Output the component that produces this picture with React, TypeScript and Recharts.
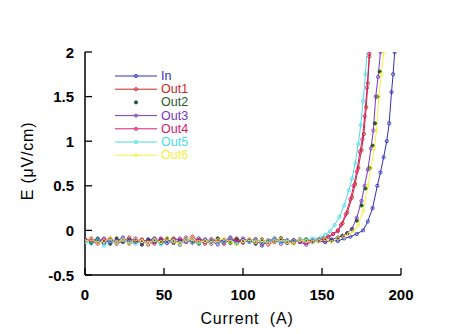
import { LineChart, Line, XAxis, YAxis } from 'recharts'

// shared baseline currents (A)
const baseCurrent = [0, 4, 8, 12, 16, 20, 24, 28, 32, 36, 40, 44, 48, 52, 56, 60, 64, 68, 72, 76, 80, 84, 88, 92, 96, 100, 104, 108, 112, 116, 120, 124, 128, 132, 136, 140, 144]

// baseline E (uV/cm) per channel
const inBase = [-0.10, -0.13, -0.09, -0.14, -0.11, -0.12, -0.08, -0.15, -0.10, -0.13, -0.11, -0.09, -0.14, -0.12, -0.10, -0.16, -0.11, -0.13, -0.09, -0.12, -0.15, -0.10, -0.12, -0.08, -0.14, -0.11, -0.13, -0.10, -0.17, -0.12, -0.09, -0.13, -0.11, -0.14, -0.10, -0.12, -0.13]
const out1Base = [-0.12, -0.09, -0.14, -0.11, -0.10, -0.15, -0.12, -0.08, -0.13, -0.11, -0.16, -0.10, -0.12, -0.14, -0.09, -0.11, -0.13, -0.07, -0.12, -0.15, -0.10, -0.12, -0.14, -0.11, -0.09, -0.13, -0.12, -0.10, -0.15, -0.11, -0.13, -0.09, -0.12, -0.14, -0.10, -0.11, -0.12]
const out2Base = [-0.11, -0.14, -0.10, -0.12, -0.15, -0.09, -0.13, -0.11, -0.12, -0.16, -0.10, -0.13, -0.11, -0.09, -0.14, -0.12, -0.10, -0.13, -0.15, -0.11, -0.12, -0.09, -0.13, -0.14, -0.10, -0.12, -0.11, -0.15, -0.10, -0.13, -0.12, -0.09, -0.14, -0.11, -0.13, -0.10, -0.12]
const out3Base = [-0.13, -0.10, -0.12, -0.09, -0.14, -0.11, -0.13, -0.12, -0.09, -0.15, -0.11, -0.12, -0.10, -0.14, -0.12, -0.09, -0.13, -0.11, -0.14, -0.10, -0.12, -0.16, -0.11, -0.10, -0.13, -0.09, -0.12, -0.14, -0.11, -0.13, -0.10, -0.15, -0.12, -0.11, -0.13, -0.16, -0.12]
const out4Base = [-0.10, -0.12, -0.15, -0.11, -0.09, -0.13, -0.10, -0.14, -0.12, -0.10, -0.13, -0.15, -0.09, -0.11, -0.13, -0.12, -0.08, -0.14, -0.11, -0.13, -0.10, -0.12, -0.15, -0.09, -0.12, -0.14, -0.10, -0.13, -0.11, -0.16, -0.12, -0.10, -0.13, -0.11, -0.12, -0.14, -0.11]
const out5Base = [-0.13, -0.15, -0.11, -0.17, -0.12, -0.14, -0.10, -0.13, -0.15, -0.12, -0.14, -0.11, -0.16, -0.13, -0.12, -0.14, -0.10, -0.13, -0.15, -0.12, -0.11, -0.14, -0.13, -0.10, -0.15, -0.12, -0.13, -0.11, -0.14, -0.12, -0.10, -0.13, -0.11, -0.12, -0.10, -0.11, -0.09]
const out6Base = [-0.12, -0.10, -0.14, -0.12, -0.09, -0.13, -0.11, -0.15, -0.10, -0.12, -0.14, -0.11, -0.13, -0.09, -0.12, -0.15, -0.11, -0.10, -0.13, -0.12, -0.14, -0.11, -0.09, -0.13, -0.16, -0.12, -0.10, -0.13, -0.11, -0.14, -0.12, -0.10, -0.13, -0.15, -0.11, -0.12, -0.13]

// transition region
const inRiseI = [148, 152, 156, 160, 164, 168, 172, 176, 179, 182, 185, 187, 189, 191, 192.5, 194, 195, 196, 197]
const inRiseE = [-0.12, -0.13, -0.11, -0.12, -0.09, -0.07, -0.04, 0.0, 0.1, 0.25, 0.5, 0.65, 0.82, 1.0, 1.2, 1.55, 1.75, 2.0, 2.3]
const out1RiseI = [148, 151, 154, 157, 160, 163, 166, 169, 171, 173, 175, 176.5, 178, 179, 180, 181]
const out1RiseE = [-0.1, -0.09, -0.07, -0.04, -0.01, 0.08, 0.2, 0.37, 0.52, 0.7, 0.9, 1.08, 1.38, 1.65, 1.95, 2.3]
const out2RiseI = [148, 152, 156, 160, 163, 166, 169, 172, 175, 177.5, 180, 182, 183.5, 185, 186.5, 188]
const out2RiseE = [-0.12, -0.1, -0.11, -0.09, -0.06, -0.03, 0.01, 0.11, 0.28, 0.47, 0.7, 0.95, 1.2, 1.5, 1.78, 2.1]
const out3RiseI = [148, 152, 156, 160, 163, 166, 169, 172, 175, 177, 179, 181, 182.5, 184, 185.5, 187, 188.5]
const out3RiseE = [-0.11, -0.13, -0.1, -0.08, -0.06, -0.03, 0.02, 0.14, 0.33, 0.5, 0.68, 0.92, 1.12, 1.5, 1.72, 2.0, 2.3]
const out4RiseI = [148, 151, 154, 157, 160, 162, 165, 168, 170, 172, 174, 175.5, 177, 178.5, 180, 181]
const out4RiseE = [-0.11, -0.1, -0.07, -0.04, 0.0, 0.06, 0.18, 0.35, 0.5, 0.66, 0.88, 1.02, 1.28, 1.6, 1.98, 2.3]
const out5RiseI = [146, 149, 152, 155, 158, 161, 164, 167, 169, 171, 173, 174.5, 176, 177.5, 179, 180]
const out5RiseE = [-0.1, -0.08, -0.05, -0.01, 0.06, 0.15, 0.28, 0.45, 0.58, 0.75, 0.97, 1.18, 1.45, 1.75, 2.1, 2.4]
const out6RiseI = [148, 152, 156, 160, 164, 167, 170, 173, 176, 179, 181, 183, 184.5, 186, 187.5, 189, 190.5]
const out6RiseE = [-0.12, -0.1, -0.13, -0.09, -0.07, -0.04, -0.01, 0.06, 0.22, 0.5, 0.7, 0.92, 1.12, 1.5, 1.75, 2.0, 2.3]

const xTicks = [0, 50, 100, 150, 200]
const yTicks = [-0.5, 0, 0.5, 1, 1.5, 2]
const yTickLabels = ['-0.5', '0', '0.5', '1', '1.5', '2']

const toPoints = (xs: number[], ys: number[]) => xs.map((i, k) => ({ i, e: ys[k] }))

const series = [
  { name: 'In', color: '#3030b8', line: true, data: [...toPoints(baseCurrent, inBase), ...toPoints(inRiseI, inRiseE)] },
  { name: 'Out1', color: '#c82828', line: true, data: [...toPoints(baseCurrent, out1Base), ...toPoints(out1RiseI, out1RiseE)] },
  { name: 'Out2', color: '#1f5a2a', line: false, data: [...toPoints(baseCurrent, out2Base), ...toPoints(out2RiseI, out2RiseE)] },
  { name: 'Out3', color: '#7a36c8', line: true, data: [...toPoints(baseCurrent, out3Base), ...toPoints(out3RiseI, out3RiseE)] },
  { name: 'Out4', color: '#d8206e', line: true, data: [...toPoints(baseCurrent, out4Base), ...toPoints(out4RiseI, out4RiseE)] },
  { name: 'Out5', color: '#48dce6', line: true, data: [...toPoints(baseCurrent, out5Base), ...toPoints(out5RiseI, out5RiseE)] },
  { name: 'Out6', color: '#f4f040', line: true, data: [...toPoints(baseCurrent, out6Base), ...toPoints(out6RiseI, out6RiseE)] },
]

const font = 'Liberation Sans, Arial, Helvetica, sans-serif'

const LeftTick = ({ x, y, payload }: any) => {
  const idx = yTicks.indexOf(payload.value)
  return (
    <g>
      <line x1={x} y1={y} x2={x + 7} y2={y} stroke="#000" strokeWidth={1.3} />
      <text x={x - 11} y={y} textAnchor="end" dominantBaseline="central" fontFamily={font} fontWeight="bold" fontSize={15} fill="#000">
        {yTickLabels[idx]}
      </text>
    </g>
  )
}

const RightTick = ({ x, y }: any) => <line x1={x} y1={y} x2={x - 7} y2={y} stroke="#000" strokeWidth={1.3} />

const BottomTick = ({ x, y, payload }: any) => (
  <g>
    <line x1={x} y1={y} x2={x} y2={y - 7} stroke="#000" strokeWidth={1.3} />
    <text x={x} y={y + 19} textAnchor="middle" dominantBaseline="central" fontFamily={font} fontWeight="bold" fontSize={15} fill="#000">
      {payload.value}
    </text>
  </g>
)

const TopTick = ({ x, y }: any) => <line x1={x} y1={y} x2={x} y2={y + 7} stroke="#000" strokeWidth={1.3} />

const LegendBox = () => (
  <svg width={90} height={104} style={{ display: 'block' }}>
    {series.map((s, k) => {
      const y = 9 + k * 13.2
      return (
        <g key={s.name}>
          {s.line && <line x1={5} y1={y} x2={47} y2={y} stroke={s.color} strokeWidth={1} />}
          <circle cx={26} cy={y} r={1.6} fill={s.line ? 'none' : s.color} stroke={s.color} strokeWidth={0.9} />
          <text x={51} y={y} dominantBaseline="central" fontFamily={font} fontSize={12.5} fill={s.color}>
            {s.name}
          </text>
        </g>
      )
    })}
  </svg>
)

export default function App() {
  return (
    <div style={{ position: 'absolute', left: 0, top: 0, width: 474, height: 334, background: '#fff' }}>
      <LineChart width={474} height={334} margin={{ top: 52, right: 73, bottom: 29, left: 25 }}>
        <XAxis
          dataKey="i"
          type="number"
          domain={[0, 200]}
          ticks={xTicks}
          tickLine={false}
          tickSize={0}
          tickMargin={0}
          tick={<BottomTick />}
          height={30}
          stroke="#000"
          strokeWidth={1.5}
          allowDataOverflow
          label={() => (
            <text x={247} y={318} textAnchor="middle" dominantBaseline="central" fontFamily={font} fontSize={16} fill="#000" letterSpacing={0.8} style={{ whiteSpace: 'pre' }}>
              {'Current  (A)'}
            </text>
          )}
        />
        <XAxis
          xAxisId="top"
          orientation="top"
          type="number"
          domain={[0, 200]}
          ticks={xTicks}
          tickLine={false}
          tickSize={0}
          tick={<TopTick />}
          height={0}
          stroke="#000"
          strokeWidth={1.5}
        />
        <YAxis
          type="number"
          domain={[-0.5, 2]}
          ticks={yTicks}
          tickLine={false}
          tickSize={0}
          tickMargin={0}
          tick={<LeftTick />}
          width={60}
          stroke="#000"
          strokeWidth={1.5}
          allowDataOverflow
          label={() => (
            <text x={27} y={161} transform="rotate(-90 27 161)" textAnchor="middle" dominantBaseline="central" fontFamily={font} fontSize={16} fill="#000" letterSpacing={0.8}>
              E (μV/cm)
            </text>
          )}
        />
        <YAxis
          yAxisId="right"
          orientation="right"
          type="number"
          domain={[-0.5, 2]}
          ticks={yTicks}
          tickLine={false}
          tickSize={0}
          tick={<RightTick />}
          width={0}
          stroke="#000"
          strokeWidth={1.5}
        />
        {series.map((s) => (
          <Line
            key={s.name}
            data={s.data}
            dataKey="e"
            name={s.name}
            type="linear"
            stroke={s.line ? s.color : 'none'}
            strokeWidth={1}
            dot={{ r: 1.6, fill: s.line ? 'none' : s.color, stroke: s.color, strokeWidth: 0.9 }}
            activeDot={false}
            isAnimationActive={false}
          />
        ))}
      </LineChart>
      <div style={{ position: 'absolute', left: 110, top: 67 }}>
        <LegendBox />
      </div>
    </div>
  )
}
